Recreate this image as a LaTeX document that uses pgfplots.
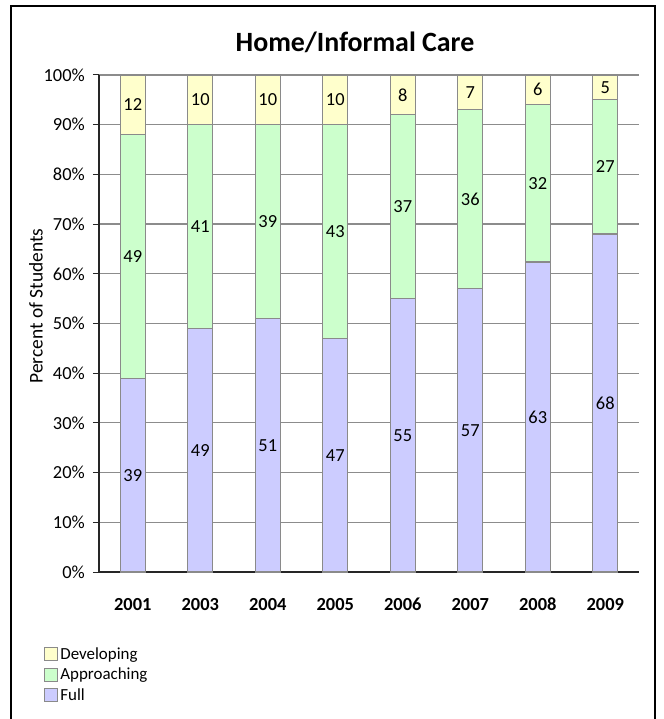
\documentclass[border=0pt]{standalone}
\usepackage{pgfplots}
\pgfplotsset{compat=1.18}
\usepackage{pgfplotstable}
\usepackage{fontspec}
\setmainfont{Carlito}
\definecolor{fullc}{HTML}{CCCCFF}
\definecolor{apprc}{HTML}{CCFFCC}
\definecolor{devc}{HTML}{FFFFCC}
\definecolor{gridc}{HTML}{8C8C8C}
\definecolor{barline}{HTML}{8A8A8A}

\pgfplotstableread{
x f a d
0 39 49 12
1 49 41 10
2 51 39 10
3 47 43 10
4 55 37 8
5 57 36 7
6 63 32 6
7 68 27 5
}\data

\begin{document}
\begin{tikzpicture}
\useasboundingbox (-99bp,-147bp) rectangle (565bp,572bp);
\pgfplotsset{common/.style={width=540bp,height=497bp,scale only axis,
  xmin=-0.5,xmax=7.5,ymin=0,ymax=100,at={(0,0)},anchor=south west}}
\begin{axis}[common, ybar stacked, bar width=25bp,
  axis x line*=bottom, axis y line*=left,
  axis line style={black!85, line width=1.1bp},
  ytick={0,10,...,100}, ymajorgrids,
  major grid style={gridc, line width=1.2bp},
  xtick={0,...,7}, xticklabels={2001,2003,2004,2005,2006,2007,2008,2009},
  xtick style={draw=none},
  ytick style={black!85, line width=1bp},
  tick align=outside, major tick length=6bp,
  /pgf/number format/assume math mode=true,
  yticklabel={\pgfmathprintnumber{\tick}\%},
  yticklabel style={font=\fontsize{18.5}{20}\selectfont, anchor=east, inner sep=0pt, xshift=-8bp},
  xticklabel style={font=\bfseries\fontsize{18.5}{20}\selectfont, anchor=base, yshift=-32bp},
  ylabel={Percent of Students},
  ylabel style={at={(axis description cs:-0.1167,0.535)}, anchor=center, font=\fontsize{19.5}{21}\selectfont},
  reverse legend,
  legend style={at={(axis description cs:-0.108,-0.144)}, anchor=north west, draw=none, fill=none,
    font=\fontsize{17}{19}\selectfont, row sep=4.5bp, nodes={inner xsep=2.5bp, inner ysep=1.5bp}},
  legend cell align=left,
  legend image code/.code={\draw[#1,draw=barline,line width=1bp] (0bp,-6.5bp) rectangle (13bp,6.5bp);},
]
\addplot[fill=fullc, draw=barline, line width=1.3bp] table[x=x, y expr={100*\thisrow{f}/(\thisrow{f}+\thisrow{a}+\thisrow{d})}]{\data};
\addlegendentry{Full}
\addplot[fill=apprc, draw=barline, line width=1.3bp] table[x=x, y expr={100*\thisrow{a}/(\thisrow{f}+\thisrow{a}+\thisrow{d})}]{\data};
\addlegendentry{Approaching}
\addplot[fill=devc, draw=barline, line width=1.3bp] table[x=x, y expr={100*\thisrow{d}/(\thisrow{f}+\thisrow{a}+\thisrow{d})}]{\data};
\addlegendentry{Developing}
\end{axis}
\begin{axis}[common, hide axis, clip=false,
  nodes near coords, point meta=explicit symbolic,
  every node near coord/.append style={anchor=center, inner sep=0pt, font=\fontsize{18.5}{20}\selectfont}]
\addplot[draw=none, mark=none] table[x=x, y expr={50*\thisrow{f}/(\thisrow{f}+\thisrow{a}+\thisrow{d})}, meta=f]{\data};
\addplot[draw=none, mark=none] table[x=x, y expr={100*(\thisrow{f}+0.5*\thisrow{a})/(\thisrow{f}+\thisrow{a}+\thisrow{d})}, meta=a]{\data};
\addplot[draw=none, mark=none] table[x=x, y expr={100*(\thisrow{f}+\thisrow{a}+0.5*\thisrow{d})/(\thisrow{f}+\thisrow{a}+\thisrow{d})}, meta=d]{\data};
\end{axis}
\node[font=\bfseries\fontsize{28}{32}\selectfont] at (256bp,530bp) {Home/Informal Care};
\draw[line width=1.5bp] (-88bp,-160bp) -- (-88bp,566bp) -- (556bp,566bp) -- (556bp,-160bp);
\end{tikzpicture}
\end{document}
